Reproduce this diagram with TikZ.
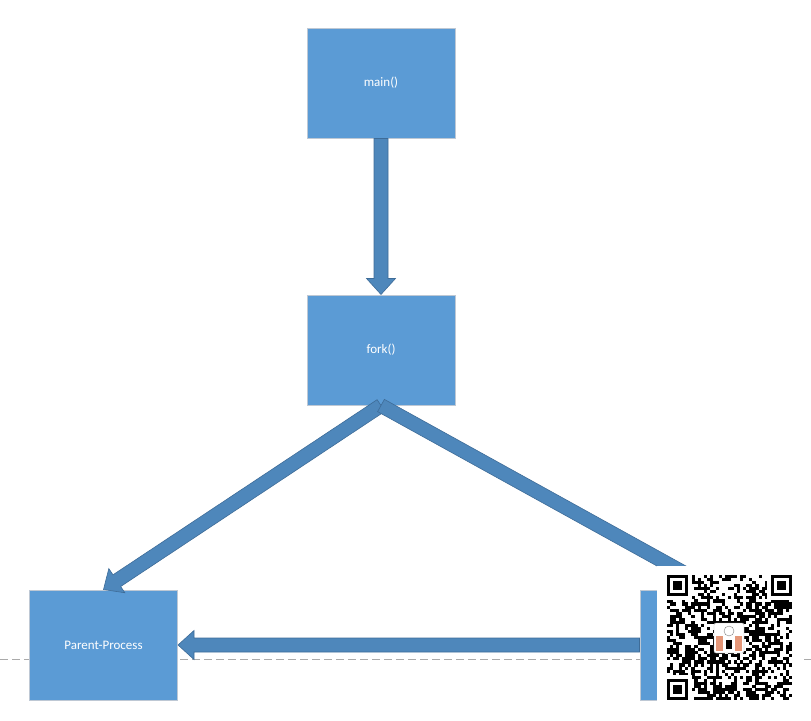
\documentclass[tikz,border=0pt]{standalone}
\usepackage{fontspec}
\setmainfont{Carlito}
\usetikzlibrary{calc}
\definecolor{boxblue}{RGB}{91,155,213}
\definecolor{boxedge}{RGB}{190,200,212}
\definecolor{arrblue}{RGB}{78,135,187}
\definecolor{arredge}{RGB}{62,108,152}
\definecolor{dashgray}{RGB}{170,170,170}
\definecolor{peach}{RGB}{228,150,120}
\tikzset{
  procbox/.style={rectangle, fill=boxblue, draw=boxedge, line width=1pt,
    minimum width=148pt, minimum height=110pt, inner sep=0pt,
    text=white, font=\fontsize{13}{15}\selectfont},
  arrowstyle/.style={fill=arrblue, draw=arredge, line width=0.6pt, line join=miter},
  guide/.style={draw=dashgray, line width=0.8pt, dash pattern=on 8pt off 4pt},
  qrmod/.style={fill=black},
}
\newcommand{\blockarr}[2]{%
  \coordinate (ba-s) at (#1);
  \coordinate (ba-e) at (#2);
  \coordinate (ba-h) at ($(ba-e)!16pt!(ba-s)$);
  \path[arrowstyle] ($(ba-s)!7pt!90:(ba-e)$) -- ($(ba-h)!7pt!-90:(ba-s)$)
    -- ($(ba-h)!14.5pt!-90:(ba-s)$) -- (ba-e) -- ($(ba-h)!14.5pt!90:(ba-s)$)
    -- ($(ba-h)!7pt!90:(ba-s)$) -- ($(ba-s)!7pt!-90:(ba-e)$) -- cycle;}
\begin{document}
\begin{tikzpicture}[x=1pt, y=-1pt]
\useasboundingbox (0,0) rectangle (811,720);
% guide line
\coordinate (gl) at (0,659);
\coordinate (gr) at (811,659);
\draw[guide] (gl) -- (gr);
% boxes
\node[procbox] (main) at (381,83) {main()};
\node[procbox] (fork) at (381,350) {fork()};
\node[procbox] (parent) at (103.5,645) {Parent-Process};
\node[procbox] (child) at (714,645) {};
% arrows
\blockarr{main.south}{fork.north}
\blockarr{fork.south}{parent.north}
\blockarr{fork.south}{child.north}
\blockarr{child.west}{parent.east}
% QR overlay
\fill[white] (657,566) rectangle (800,720);
\pgfmathsetseed{7}
\foreach \i in {0,...,40}{%
  \foreach \j in {0,...,40}{%
    \pgfmathrandominteger{\r}{0}{1}%
    \ifnum\r=1 \fill[qrmod] ({667+\i*3.05},{575+\j*3.05}) rectangle ++(3.1,3.1);\fi
  }%
}
\foreach \fx/\fy in {0/0, 33/0, 0/33}{%
  \fill[white] ({667+\fx*3.05-1},{575+\fy*3.05-1}) rectangle ++(8*3.05+2,8*3.05+2);
  \fill[qrmod] ({667+\fx*3.05+(\fx>0 ? 1 : 0)*3.05},{575+\fy*3.05+(\fy>0 ? 1 : 0)*3.05}) rectangle ++(7*3.05,7*3.05);
  \fill[white] ({667+\fx*3.05+(\fx>0 ? 1 : 0)*3.05+3.05},{575+\fy*3.05+(\fy>0 ? 1 : 0)*3.05+3.05}) rectangle ++(5*3.05,5*3.05);
  \fill[qrmod] ({667+\fx*3.05+(\fx>0 ? 1 : 0)*3.05+6.1},{575+\fy*3.05+(\fy>0 ? 1 : 0)*3.05+6.1}) rectangle ++(3*3.05,3*3.05);
}
% logo
\draw[fill=white, draw=gray!60, rounded corners=2pt] (714,623) rectangle (744,653);
\fill[peach] (716,636) rectangle (723,651);
\fill[peach] (735,636) rectangle (742,651);
\draw[gray, line width=0.4pt] (729,631) circle (5);
\fill[black] (726,640) rectangle (732,649);
\end{tikzpicture}
\end{document}
